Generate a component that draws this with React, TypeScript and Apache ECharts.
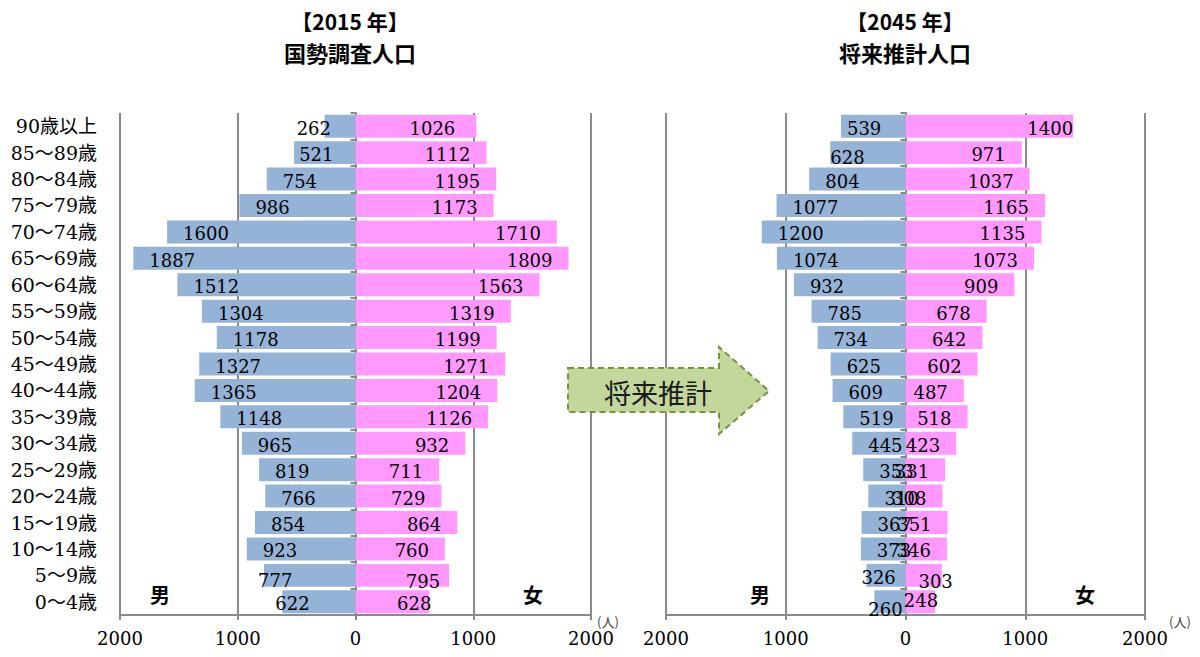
import React, { useEffect, useRef } from "react";
import * as echarts from "echarts";

// ---- data ----
const categories = [
  "90歳以上", "85～89歳", "80～84歳", "75～79歳", "70～74歳", "65～69歳", "60～64歳",
  "55～59歳", "50～54歳", "45～49歳", "40～44歳", "35～39歳", "30～34歳", "25～29歳",
  "20～24歳", "15～19歳", "10～14歳", "5～9歳", "0～4歳",
];
const male2015 = [262, 521, 754, 986, 1600, 1887, 1512, 1304, 1178, 1327, 1365, 1148, 965, 819, 766, 854, 923, 777, 622];
const female2015 = [1026, 1112, 1195, 1173, 1710, 1809, 1563, 1319, 1199, 1271, 1204, 1126, 932, 711, 729, 864, 760, 795, 628];
const male2045 = [539, 628, 804, 1077, 1200, 1074, 932, 785, 734, 625, 609, 519, 445, 353, 310, 367, 373, 326, 260];
const female2045 = [1400, 971, 1037, 1165, 1135, 1073, 909, 678, 642, 602, 487, 518, 423, 331, 308, 351, 346, 303, 248];
const axisMin = -2000;
const axisMax = 2000;
const axisStep = 1000;

// ---- label nudges (index -> [dx, dy]) ----
const maleAdj2015: Record<number, number[]> = { 0: [-44, 0], 1: [-11, 0], 17: [-22, 3], 18: [-23, 0] };
const femaleAdj2015: Record<number, number[]> = { 0: [-5, 0], 17: [7, 4], 18: [18, 0] };
const maleAdj2045: Record<number, number[]> = { 0: [-10, 0], 1: [-16, 3], 17: [-21, 0], 18: [-22, 6] };
const femaleAdj2045: Record<number, number[]> = { 0: [16, 0], 17: [27, 4], 18: [19, -3] };

const GRAY = "#8a8a8a";
const BLUE = "#95B3D7";
const PINK = "#FF99FF";
const NUM_FONT = "'DejaVu Serif', 'Noto Sans CJK JP', serif";
const CJK_FONT = "'Noto Sans CJK JP', sans-serif";
const BASE_DY = 2;

function buildItems(values: number[], sign: number, adj: Record<number, number[]>) {
  return values.map((v, i) => {
    const a = adj[i];
    if (!a) return { value: sign * v };
    return { value: sign * v, label: { offset: [a[0], a[1] + BASE_DY] } };
  });
}

function barSeries(name: string, gridIdx: number, stack: string, values: number[], sign: number, adj: Record<number, number[]>, color: string) {
  return {
    type: "bar",
    name,
    xAxisIndex: gridIdx,
    yAxisIndex: gridIdx === 0 ? 1 : 2,
    stack,
    barCategoryGap: "13%",
    data: buildItems(values, sign, adj),
    itemStyle: { color },
    label: {
      show: true,
      position: sign < 0 ? "insideLeft" : "insideRight",
      distance: 16,
      offset: [0, BASE_DY],
      formatter: (p: any) => String(Math.abs(p.value)),
      fontFamily: NUM_FONT,
      fontSize: 18,
      color: "#000",
    },
  };
}

function zeroAxis(gridIndex: number) {
  return {
    type: "category",
    gridIndex,
    data: categories,
    inverse: true,
    position: "left",
    axisLine: { show: true, onZero: true, lineStyle: { color: GRAY, width: 2 } },
    axisTick: { show: true, length: 5, lineStyle: { color: GRAY, width: 2 } },
    axisLabel: { show: false },
    splitLine: { show: false },
  };
}

function valueAxis(gridIndex: number) {
  return {
    type: "value",
    gridIndex,
    min: axisMin,
    max: axisMax,
    interval: axisStep,
    axisLine: { show: true, onZero: false, lineStyle: { color: GRAY, width: 2 } },
    axisTick: { show: true, length: 5, lineStyle: { color: GRAY, width: 2 } },
    splitLine: { show: true, lineStyle: { color: GRAY, width: 2 } },
    axisLabel: {
      formatter: (v: number) => String(Math.abs(v)),
      color: "#000",
      fontFamily: NUM_FONT,
      fontSize: 18,
      margin: 14,
    },
  };
}

function txt(text: string, x: number, y: number, size: number, weight: string, color = "#000", font = CJK_FONT) {
  return {
    type: "text",
    x,
    y,
    z: 110,
    style: {
      text,
      fill: color,
      fontSize: size,
      fontWeight: weight,
      fontFamily: font,
      align: "center",
      verticalAlign: "middle",
      textAlign: "center",
      textVerticalAlign: "middle",
    },
  };
}

export default function App() {
  const ref = useRef<HTMLDivElement>(null);
  useEffect(() => {
    if (!ref.current) return;
    const chart = echarts.init(ref.current, undefined, { renderer: "svg" });
    const option: any = {
      animation: false,
      backgroundColor: "#fff",
      grid: [
        { left: 120, top: 113, width: 471, height: 502 },
        { left: 666, top: 113, width: 479, height: 502 },
      ],
      xAxis: [valueAxis(0), valueAxis(1)],
      yAxis: [
        {
          type: "category",
          gridIndex: 0,
          data: categories,
          inverse: true,
          position: "left",
          axisLine: { show: false, onZero: false },
          axisTick: { show: false },
          splitLine: { show: false },
          axisLabel: { color: "#000", fontFamily: NUM_FONT, fontSize: 19, margin: 23 },
        },
        zeroAxis(0),
        zeroAxis(1),
      ],
      series: [
        barSeries("男 2015", 0, "s2015", male2015, -1, maleAdj2015, BLUE),
        barSeries("女 2015", 0, "s2015", female2015, 1, femaleAdj2015, PINK),
        barSeries("男 2045", 1, "s2045", male2045, -1, maleAdj2045, BLUE),
        barSeries("女 2045", 1, "s2045", female2045, 1, femaleAdj2045, PINK),
      ],
      graphic: [
        txt("【2015 年】", 350, 21, 21, "bold"),
        txt("国勢調査人口", 350, 52, 22, "bold"),
        txt("【2045 年】", 905, 21, 21, "bold"),
        txt("将来推計人口", 905, 52, 22, "bold"),
        txt("男", 160, 594, 20, "bold"),
        txt("女", 533, 594, 20, "bold"),
        txt("男", 760, 594, 20, "bold"),
        txt("女", 1085, 594, 20, "bold"),
        txt("(人)", 608, 621, 13, "normal", "#444"),
        txt("(人)", 1180, 621, 13, "normal", "#444"),
        {
          type: "polygon",
          z: 100,
          shape: {
            points: [
              [568, 368], [719, 368], [719, 347], [769, 391], [719, 434], [719, 412], [568, 412],
            ],
          },
          style: { fill: "#C3D69B", stroke: "#77933C", lineWidth: 2, lineDash: [6, 4] },
        },
        txt("将来推計", 658, 392, 27, "normal", "#1a1a1a"),
      ],
    };
    chart.setOption(option);
    return () => chart.dispose();
  }, []);
  return (
    <div
      ref={ref}
      style={{ position: "fixed", left: 0, top: 0, width: 1200, height: 657 }}
    />
  );
}
